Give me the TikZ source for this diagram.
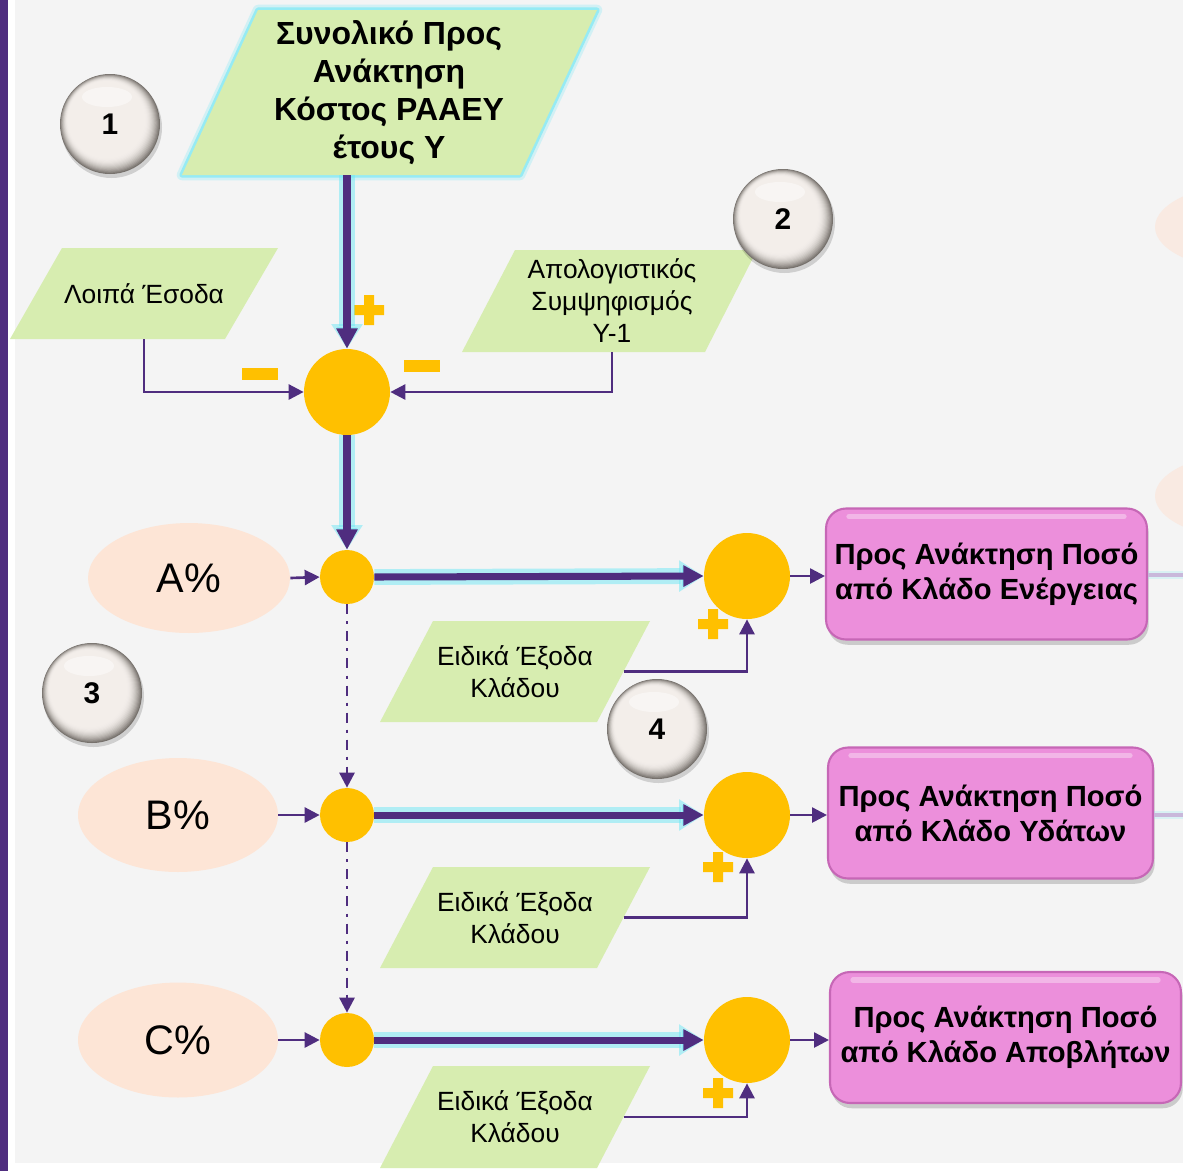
\documentclass[tikz,border=0pt]{standalone}
\usepackage{fontspec}
\setmainfont{Liberation Sans}
\usetikzlibrary{shapes.geometric,arrows.meta,shadows,calc}
\definecolor{purp}{HTML}{4F2D7F}
\definecolor{panel}{HTML}{F4F4F4}
\definecolor{pgreen}{HTML}{D7EDB0}
\definecolor{peach}{HTML}{FDE5D6}
\definecolor{fpeach}{HTML}{F9EAE2}
\definecolor{orng}{HTML}{FFC000}
\definecolor{glow}{HTML}{6EE8F5}
\definecolor{boxpink}{HTML}{EC8FDB}
\definecolor{boxedge}{HTML}{C667B6}
\definecolor{fline}{HTML}{C9B8DB}
\definecolor{pearlc}{HTML}{F3EEEA}
\definecolor{pearld}{HTML}{77726D}
\newcommand{\pearlback}[1]{%
  \begin{scope}[shift={(#1)}]
    \fill[black, opacity=0.15] (1.5,3.5) circle[radius=50.5];
    \foreach \k in {0,...,14}{%
      \pgfmathsetmacro\mixv{100*(1-(1-\k/14)^2)}%
      \fill[pearlc!\mixv!pearld] (-0.25*\k,-0.3*\k) circle[radius=50-0.8*\k];
    }
    \fill[white, opacity=0.45] (-3,-27) ellipse [x radius=25, y radius=10];
  \end{scope}}
\tikzset{
  ptext/.style={inner sep=0pt, align=center, font=\fontsize{15pt}{18.2pt}\selectfont},
  toptext/.style={inner sep=0pt, align=center, font=\bfseries\fontsize{18.2pt}{21.6pt}\selectfont},
  pearl/.style={circle, minimum size=2cm, inner sep=0pt,
    font=\bfseries\fontsize{17pt}{20pt}\selectfont},
  pct/.style={ellipse, fill=peach, inner sep=0pt, minimum width=4cm, font=\fontsize{23.5pt}{27pt}\selectfont},
  smallc/.style={circle, fill=orng, minimum size=1.08cm, inner sep=0pt},
  bigc/.style={circle, fill=orng, minimum size=1.72cm, inner sep=0pt},
  outbox/.style={rectangle, rounded corners=0.4cm, fill=boxpink, draw=boxedge, line width=1.2pt,
    drop shadow={shadow xshift=1pt, shadow yshift=-3pt, opacity=0.35},
    align=center, inner sep=0pt, font=\bfseries\fontsize{16.6pt}{19.8pt}\selectfont},
  thickarrow/.style={draw=purp, line width=4pt, -{Triangle[length=11.5pt,width=11.5pt]},
    preaction={draw=glow, line width=9pt, opacity=0.5, -{Triangle[length=14pt,width=17pt]}}},
  thinarrow/.style={draw=purp, line width=1.5pt, -{Triangle[length=8.5pt,width=8.5pt]}},
  dasharrow/.style={thinarrow, dash pattern=on 5.7pt off 4pt on 1.7pt off 4pt},
  farline/.style={draw=fline, line width=2.8pt, preaction={draw=glow, line width=5pt, opacity=0.2}}
}
\begin{document}
\begin{tikzpicture}[x=0.02cm,y=-0.02cm]
\useasboundingbox (0,0) rectangle (1183,1171);
\clip (0,0) rectangle (1183,1171);
% background
\fill[white] (0,0) rectangle (1183,1171);
\fill[purp] (0,0) rectangle (8,1171);
\fill[panel] (15,0) rectangle (1183,1163);
% faint ellipses of the next column
\fill[fpeach] (1255,227) ellipse [x radius=100, y radius=44];
\fill[fpeach] (1255,496) ellipse [x radius=100, y radius=44];
% parallelograms
\draw[glow, line width=6pt, opacity=0.25, line join=round] (258,10) -- (597,10) -- (520,175) -- (182,175) -- cycle;
\draw[glow, line width=3pt, opacity=0.6, line join=round] (258,10) -- (597,10) -- (520,175) -- (182,175) -- cycle;
\fill[pgreen] (258,10) -- (597,10) -- (520,175) -- (182,175) -- cycle;
\fill[pgreen] (62,248) -- (278,248) -- (225,339) -- (10,339) -- cycle;
\fill[pgreen] (515,250) -- (757,250) -- (705,352) -- (462,352) -- cycle;
\fill[pgreen] (433,621) -- (650,621) -- (597,722) -- (380,722) -- cycle;
\fill[pgreen] (433,867) -- (650,867) -- (597,968) -- (380,968) -- cycle;
\fill[pgreen] (433,1066) -- (650,1066) -- (597,1168) -- (380,1168) -- cycle;
% texts in parallelograms
\node[toptext, minimum width=6.78cm, minimum height=3.3cm] (total) at (389,92.5)
  {Συνολικό Προς\\Ανάκτηση\\Κόστος ΡΑΑΕΥ\\έτους Υ};
\node[ptext, minimum width=4.32cm, minimum height=1.82cm] (loipa) at (144,293.5) {Λοιπά Έσοδα};
\node[ptext, minimum width=4.84cm, minimum height=2.04cm] (apol) at (612,301)
  {Απολογιστικός\\Συμψηφισμός\\Υ-1};
\node[ptext, minimum width=4.34cm, minimum height=2.02cm] (e1) at (515,671.5) {Ειδικά Έξοδα\\Κλάδου};
\node[ptext, minimum width=4.34cm, minimum height=2.02cm] (e2) at (515,917.5) {Ειδικά Έξοδα\\Κλάδου};
\node[ptext, minimum width=4.34cm, minimum height=2.04cm] (e3) at (515,1117) {Ειδικά Έξοδα\\Κλάδου};
% numbered pearls
\pearlback{110,124}
\pearlback{783,219}
\pearlback{92,693}
\pearlback{657,729}
\node[pearl] (n1) at (110,124) {1};
\node[pearl] (n2) at (783,219) {2};
\node[pearl] (n3) at (92,693) {3};
\node[pearl] (n4) at (657,729) {4};
% percentage ellipses
\node[pct, minimum width=4.04cm, minimum height=2.2cm] (pa) at (189,578) {A\%};
\node[pct, minimum height=2.28cm] (pb) at (178,815) {B\%};
\node[pct, minimum height=2.3cm] (pc) at (178,1040) {C\%};
% circles
\node[bigc] (sum) at (347,392) {};
\node[smallc] (sa) at (347,577) {};
\node[smallc] (sb) at (347,815) {};
\node[smallc] (sc) at (347,1040) {};
\node[bigc] (ba) at (747,576) {};
\node[bigc] (bb) at (747,815) {};
\node[bigc] (bc) at (747,1040) {};
% output boxes
\node[outbox, minimum width=6.42cm, minimum height=2.62cm] (boxa) at (986.5,574)
  {Προς Ανάκτηση Ποσό\\από Κλάδο Ενέργειας};
\node[outbox, minimum width=6.5cm, minimum height=2.62cm] (boxb) at (990.5,813)
  {Προς Ανάκτηση Ποσό\\από Κλάδο Υδάτων};
\node[outbox, minimum width=7.02cm, minimum height=2.62cm] (boxc) at (1005.5,1037.5)
  {Προς Ανάκτηση Ποσό\\από Κλάδο Αποβλήτων};
\foreach \b in {boxa,boxb,boxc}{
  \draw[white, opacity=0.35, line width=3pt, line cap=round]
    ($(\b.north west)+(24,9)$) -- ($(\b.north east)+(-24,9)$);
}
% free ends of faint lines to the next column
\coordinate (ra) at (1183,575);
\coordinate (rb) at (1183,815);
\draw[farline] (boxa.east |- ra) -- (ra);
\draw[farline] (boxb.east |- rb) -- (rb);
% signs
\fill[orng, shift={(369,310)}] (-15,-5) rectangle (15,5) (-5,-15) rectangle (5,15);
\fill[orng, shift={(713,624)}] (-15,-5) rectangle (15,5) (-5,-15) rectangle (5,15);
\fill[orng, shift={(718,867)}] (-15,-5) rectangle (15,5) (-5,-15) rectangle (5,15);
\fill[orng, shift={(718,1093)}] (-15,-5) rectangle (15,5) (-5,-15) rectangle (5,15);
\fill[orng] (242,368) rectangle (278,380);
\fill[orng] (404,360) rectangle (440,372);
% connectors
\draw[thickarrow] (sum.north |- total.south) -- (sum.north);
\draw[thickarrow] (sum.south) -- (sa.north);
\draw[thickarrow] (sa.east) -- (ba.west);
\draw[thickarrow] (sb.east) -- (bb.west);
\draw[thickarrow] (sc.east) -- (bc.west);
\draw[thinarrow] (loipa.south) |- (sum.west);
\draw[thinarrow] (apol.south) |- (sum.east);
\draw[thinarrow] (pa.east) -- (sa.west);
\draw[thinarrow] (pb.east) -- (sb.west);
\draw[thinarrow] (pc.east) -- (sc.west);
\draw[dasharrow] (sa.south) -- (sb.north);
\draw[dasharrow] (sb.south) -- (sc.north);
\draw[thinarrow] (e1.east) -| (ba.south);
\draw[thinarrow] (e2.east) -| (bb.south);
\draw[thinarrow] (e3.east) -| (bc.south);
\draw[thinarrow] (ba.east) -- (ba.east -| boxa.west);
\draw[thinarrow] (bb.east) -- (bb.east -| boxb.west);
\draw[thinarrow] (bc.east) -- (bc.east -| boxc.west);
\end{tikzpicture}
\end{document}
